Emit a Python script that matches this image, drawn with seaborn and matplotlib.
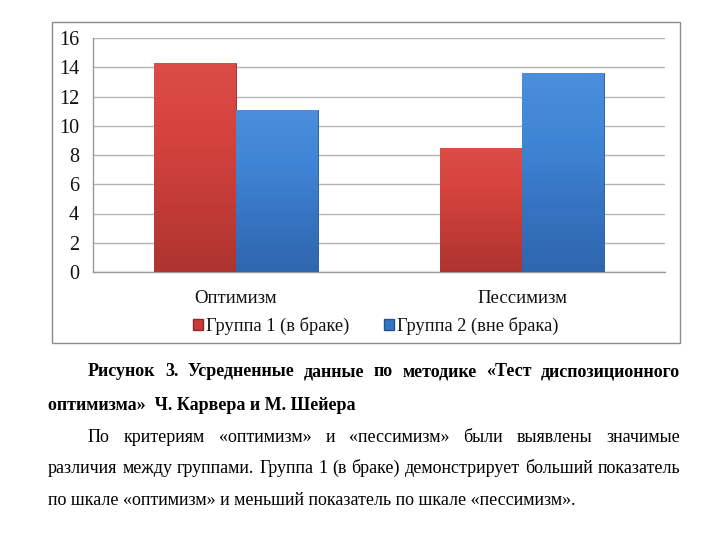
import matplotlib
matplotlib.use("Agg")
import matplotlib.pyplot as plt
import seaborn as sns
import pandas as pd
import numpy as np
from matplotlib.patches import Rectangle
from matplotlib.colors import LinearSegmentedColormap

categories = ["Оптимизм", "Пессимизм"]
groups = ["Группа 1 (в браке)", "Группа 2 (вне брака)"]
group1_values = [14.3, 8.5]
group2_values = [11.1, 13.6]
y_ticks = [0, 2, 4, 6, 8, 10, 12, 14, 16]

caption_lines = [
    ("Рисунок 3. Усредненные данные по методике «Тест диспозиционного", True, True, True),
    ("оптимизма»  Ч. Карвера и М. Шейера", True, False, False),
]
para_lines = [
    ("По критериям «оптимизм» и «пессимизм» были выявлены значимые", False, True, True),
    ("различия между группами. Группа 1 (в браке) демонстрирует больший показатель", False, False, True),
    ("по шкале «оптимизм» и меньший показатель по шкале «пессимизм».", False, False, False),
]

df = pd.DataFrame({
    "Категория": categories * 2,
    "Группа": [groups[0]] * 2 + [groups[1]] * 2,
    "Значение": group1_values + group2_values,
})

sns.set_theme(style="white")
plt.rcParams["font.family"] = ["Liberation Serif", "DejaVu Serif"]

W, H = 720, 540
fig = plt.figure(figsize=(7.2, 5.4), dpi=100)
fig.patch.set_facecolor("white")

def fx(px):
    return px / W

def fy(py):
    return 1 - py / H

# chart border
fig.patches.append(Rectangle((fx(52), fy(343)), fx(680) - fx(52), fy(22) - fy(343),
                             transform=fig.transFigure, fill=False,
                             edgecolor="#8c8c8c", linewidth=1.0, zorder=0))

ax = fig.add_axes([fx(93), fy(272), fx(665) - fx(93), fy(38) - fy(272)])
palette = {groups[0]: "#C93B36", groups[1]: "#3775C4"}
sns.barplot(data=df, x="Категория", y="Значение", hue="Группа", order=categories,
            hue_order=groups, palette=palette, width=0.57, saturation=1,
            edgecolor="#7a2a26", linewidth=0.6, ax=ax, legend=True, zorder=3)

ax.set_ylim(0, 16)
ax.set_xlim(-0.5, 1.5)
ax.set_yticks(y_ticks)
ax.set_yticklabels([str(v) for v in y_ticks], fontsize=14.5)
ax.set_xlabel("")
ax.set_ylabel("")
ax.yaxis.grid(True, color="#b4b4b4", linewidth=1.0, zorder=0)
ax.set_axisbelow(True)
for s in ["top", "right"]:
    ax.spines[s].set_visible(False)
for s in ["left", "bottom"]:
    ax.spines[s].set_color("#9a9a9a")
    ax.spines[s].set_linewidth(1.0)
ax.tick_params(axis="y", which="major", length=5, color="#9a9a9a", width=1, pad=5, labelcolor="#111111")
ax.tick_params(axis="x", which="major", length=0, pad=13, labelsize=13.5, labelcolor="#111111")
ax.set_xticks([-0.5, 0.5, 1.5], minor=True)
ax.tick_params(axis="x", which="minor", length=5, color="#9a9a9a", width=1)

# gradient fill on bars
grads = {
    groups[0]: LinearSegmentedColormap.from_list("r", ["#AE3430", "#C23B36", "#D6433E", "#DC4D47"]),
    groups[1]: LinearSegmentedColormap.from_list("b", ["#2F66AE", "#3674C2", "#4086D6", "#4A8EDC"]),
}
edge = {groups[0]: "#8a2a26", groups[1]: "#24538f"}
bars_by_group = [ax.containers[0], ax.containers[1]]
for gname, cont in zip(groups, bars_by_group):
    for patch in cont.patches:
        x0, y0 = patch.get_x(), patch.get_y()
        w, h = patch.get_width(), patch.get_height()
        grad = np.linspace(0, 1, 256).reshape(-1, 1)
        im = ax.imshow(grad, cmap=grads[gname], origin="lower", aspect="auto",
                       extent=[x0, x0 + w, y0, y0 + h], zorder=3.5)
        im.set_clip_path(patch)
        patch.set_edgecolor(edge[gname])
ax.set_xlim(-0.5, 1.5)
ax.set_ylim(0, 16)

leg = ax.get_legend()
if leg is not None:
    leg.remove()
handles = [Rectangle((0, 0), 1, 1, facecolor=c, edgecolor=edge[g]) for g, c in
           zip(groups, ["#C93B36", "#3775C4"])]
fig.legend(handles, groups, loc="center", bbox_to_anchor=(fx(376), fy(326)),
           ncol=2, frameon=False, fontsize=13.2, handlelength=0.5, handleheight=0.5,
           handletextpad=0.2, columnspacing=1.9, labelcolor="#111111")

# text block with justification
fig.canvas.draw()
renderer = fig.canvas.get_renderer()

def draw_line(text, y_px, x_left, x_right, bold, justify, size):
    weight = "bold" if bold else "normal"
    words = text.split(" ")
    words = [w for w in words if w != ""]
    if not justify:
        fig.text(fx(x_left), fy(y_px), text, fontsize=size, fontweight=weight,
                 ha="left", va="baseline", color="black")
        return
    objs = [fig.text(0, fy(y_px), w, fontsize=size, fontweight=weight,
                     ha="left", va="baseline", color="black") for w in words]
    widths = [o.get_window_extent(renderer).width for o in objs]
    gap = (x_right - x_left - sum(widths)) / (len(words) - 1)
    x = x_left
    for o, wd in zip(objs, widths):
        o.set_x(fx(x))
        x += wd + gap

size = 13
left, right, indent = 48, 680, 88
y_positions = [376, 410, 442, 473, 505]
all_lines = caption_lines + para_lines
for (text, bold, ind, just), yp in zip(all_lines, y_positions):
    draw_line(text, yp, indent if ind else left, right, bold, just, size)

fig.savefig("out.png", dpi=100)
